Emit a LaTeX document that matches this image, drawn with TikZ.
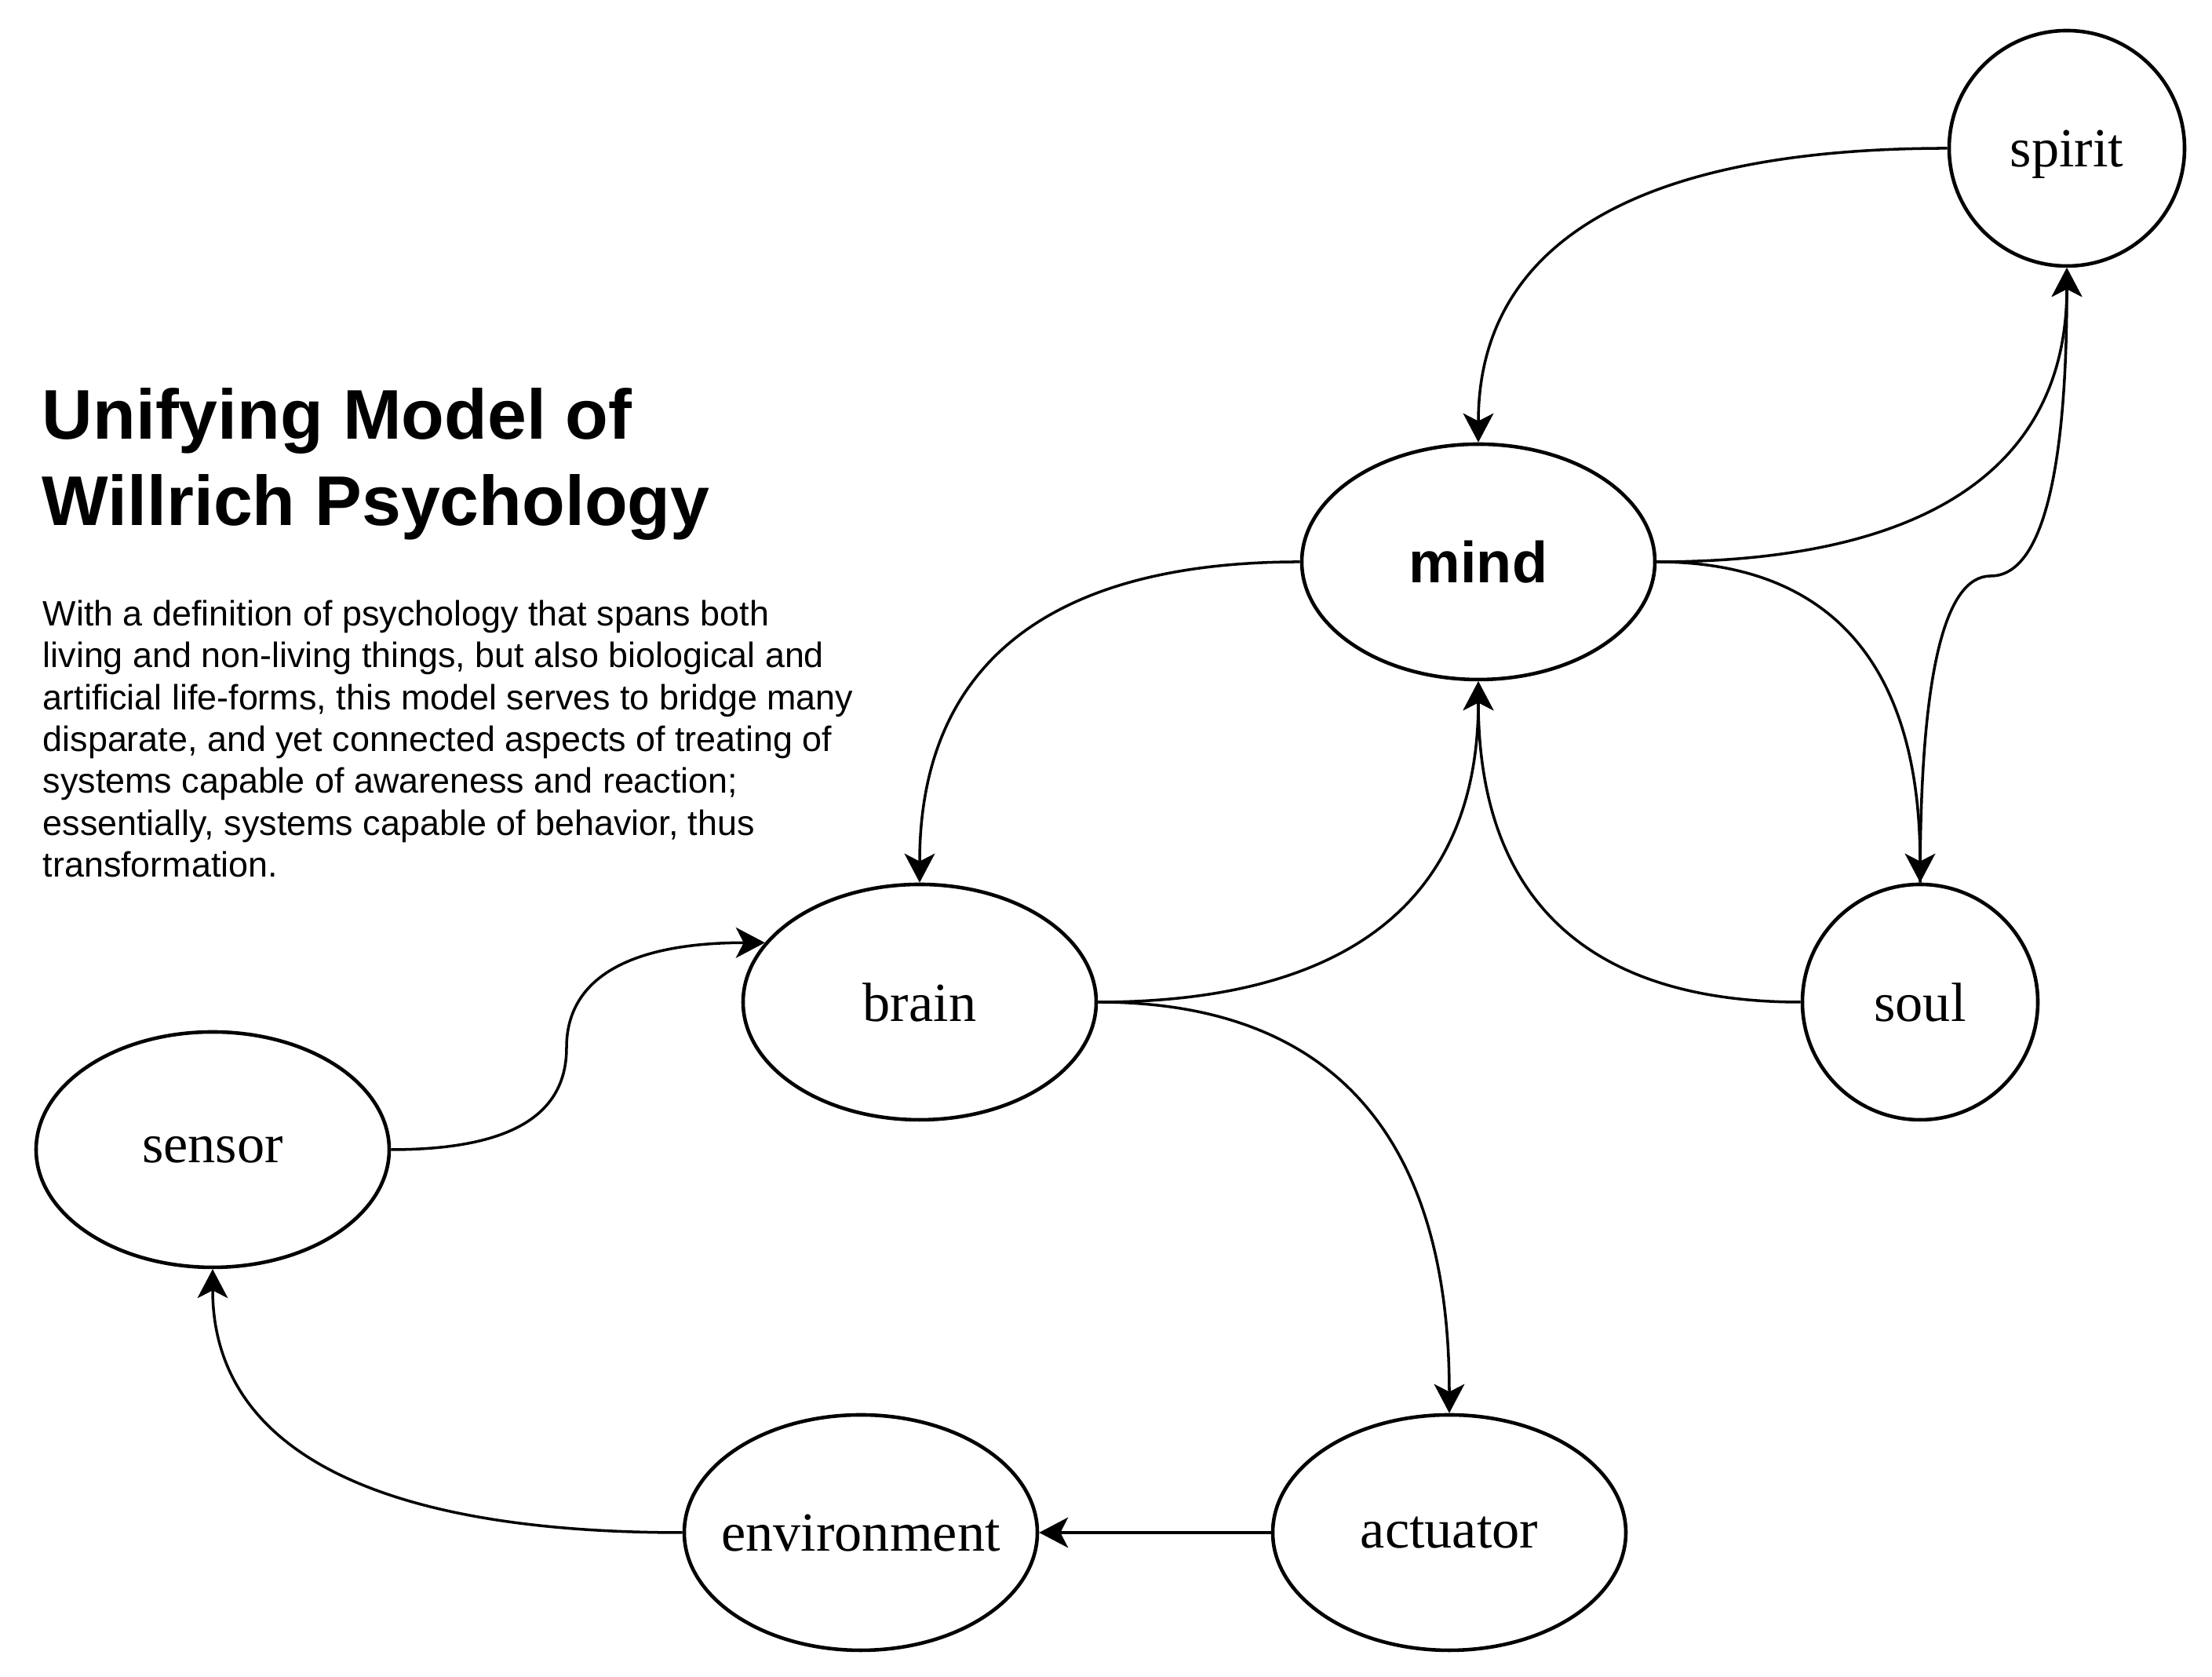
\documentclass[tikz,border=0pt]{standalone}
\usepackage{fontspec}
\setmainfont{Liberation Serif}
\newfontfamily\arialfont{Liberation Sans}
\usetikzlibrary{shapes.geometric,arrows.meta}

\begin{document}
\begin{tikzpicture}[
    state/.style={shape=ellipse,draw=black,line width=1.3pt,minimum width=4.5cm,minimum height=3cm,inner ysep=0pt,inner xsep=-0.6cm,text depth=0pt,font=\fontsize{20}{24}\selectfont},
    roundstate/.style={shape=circle,draw=black,line width=1.3pt,minimum size=3cm,inner sep=0pt,text depth=0pt,font=\fontsize{20}{24}\selectfont},
    link/.style={-{Stealth[length=10.5pt,width=11pt,inset=2.8pt]},line width=1pt}]
            \useasboundingbox (0,0) rectangle (28.19,21.37);

            \node[anchor=north west,inner sep=0pt,align=left,font=\arialfont\bfseries\fontsize{25.5}{31.3}\selectfont] (title) at (0.53,16.43) {Unifying Model of\\Willrich Psychology};
            \node[anchor=north west,inner sep=0pt,align=left,font=\arialfont\fontsize{12.77}{15.2}\selectfont] (blurb) at (0.54,13.73) {With a definition of psychology that spans both\\living and non-living things, but also biological and\\artificial life-forms, this model serves to bridge many\\disparate, and yet connected aspects of treating of\\systems capable of awareness and reaction;\\essentially, systems capable of behavior, thus\\transformation.};

            \node[roundstate] (spirit) at (26.34,19.48) {spirit};
            \node[state,font=\arialfont\bfseries\fontsize{21}{24}\selectfont] (mind) at (18.84,14.21) {mind};
            \node[state] (brain) at (11.72,8.60) {brain};
            \node[roundstate] (soul) at (24.47,8.60) {soul};
            \node[state] (sensor) at (2.71,6.72) {sensor};
            \node[state] (env) at (10.97,1.84) {environment};
            \node[state] (actuator) at (18.47,1.84) {actuator};
            \coordinate (kink) at (25.37,14.03);
            \coordinate (bend) at (7.22,8.02);

            \path [link] (spirit.west) edge[out=180,in=90,out distance=4cm,in distance=2.51cm] (mind.north);
            \path [link] (mind.east) edge[out=0,in=-90,out distance=3.5cm,in distance=2.51cm] (spirit.south);
            \path [link] (mind.east) edge[out=0,in=90,out distance=2.25cm,in distance=2.74cm] (soul.north);
            \draw [link] (soul.north) to[out=90,in=180,out distance=2.62cm,in distance=0.6cm] (kink) to[out=0,in=-90,out distance=0.65cm,in distance=2.63cm] (spirit.south);
            \path [link] (mind.west) edge[out=180,in=90,out distance=3.25cm,in distance=2.74cm] (brain.north);
            \path [link] (brain.east) edge[out=0,in=-90,out distance=3.25cm,in distance=2.74cm] (mind.south);
            \path [link] (soul.west) edge[out=180,in=-90,out distance=2.75cm,in distance=2.74cm] (mind.south);
            \path [link] (brain.east) edge[out=0,in=90,out distance=3cm,in distance=3.51cm] (actuator.north);
            \path [link] (actuator) edge (env);
            \path [link] (env.west) edge[out=180,in=-90,out distance=4.01cm,in distance=2.25cm] (sensor.south);
            \draw [link] (sensor.east) to[out=0,in=-90,out distance=1.51cm,in distance=0.87cm] (bend) to[out=90,in=180,out distance=0.87cm,in distance=1.75cm] (brain.159);
        \end{tikzpicture}
\end{document}
